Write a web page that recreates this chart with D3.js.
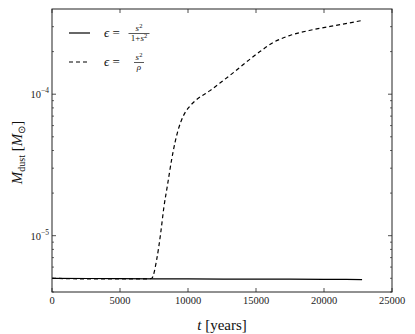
<!DOCTYPE html>
<html>
<head>
<meta charset="utf-8">
<script src="https://cdn.jsdelivr.net/npm/d3@7"></script>
<style>
  body { margin: 0; background: #fff; }
</style>
</head>
<body>
<svg width="415" height="334"></svg>
<script>
// data
var xTicks = [0, 5000, 10000, 15000, 20000, 25000];
var yMajor = [1e-5, 1e-4];
var yMajorExp = ["\u22125", "\u22124"];

var solidT = [0, 5000, 10000, 15000, 20000, 22800];
var solidM = [5.0e-6, 4.97e-6, 4.95e-6, 4.93e-6, 4.92e-6, 4.9e-6];

var dashT = [0, 3000, 5000, 7000, 7330, 7700, 7990, 8235, 8480, 8800, 9040, 9290, 9650,
             10150, 10600, 11620, 12350, 13090, 13820, 14560, 15290, 16270, 17500,
             19210, 21180, 22800];
var dashM = [5.0e-6, 4.95e-6, 4.95e-6, 4.96e-6, 5.0e-6, 6.8e-6, 1.04e-5, 1.61e-5, 2.24e-5,
             3.46e-5, 4.54e-5, 5.65e-5, 7.0e-5, 8.26e-5, 9.1e-5, 1.06e-4, 1.2e-4, 1.36e-4,
             1.55e-4, 1.77e-4, 2.0e-4, 2.32e-4, 2.6e-4, 2.86e-4, 3.1e-4, 3.32e-4];

var svg = d3.select("svg"),
    margin = { top: 9, right: 23, bottom: 42, left: 52 },
    width = +svg.attr("width") - margin.left - margin.right,
    height = +svg.attr("height") - margin.top - margin.bottom;

var serif = "Liberation Serif";

var x = d3.scaleLinear().domain([0, 25000]).range([0, width]);
var y = d3.scaleLog().domain([4e-6, 4e-4]).range([height, 0]);

var g = svg.append("g")
    .attr("transform", "translate(" + margin.left + "," + margin.top + ")");

// minor log ticks 2..9 x 10^k inside the domain
var yMinor = [];
[-6, -5, -4].forEach(function (e) {
    for (var m = 2; m <= 9; m++) {
        var v = m * Math.pow(10, e);
        if (v >= 4e-6 && v < 4e-4) yMinor.push(v);
    }
});

var tickCol = "#222";

// ticks inside, on all four sides
xTicks.forEach(function (t) {
    g.append("line").attr("x1", x(t)).attr("x2", x(t)).attr("y1", height).attr("y2", height - 4)
        .attr("stroke", tickCol).attr("stroke-width", 0.8);
    g.append("line").attr("x1", x(t)).attr("x2", x(t)).attr("y1", 0).attr("y2", 4)
        .attr("stroke", tickCol).attr("stroke-width", 0.8);
    g.append("text")
        .attr("x", x(t)).attr("y", height + 12)
        .attr("text-anchor", "middle")
        .attr("font-family", serif)
        .attr("font-size", 10.5)
        .attr("fill", "#222")
        .text(t);
});

yMajor.forEach(function (v, i) {
    g.append("line").attr("x1", 0).attr("x2", 4).attr("y1", y(v)).attr("y2", y(v))
        .attr("stroke", tickCol).attr("stroke-width", 0.8);
    g.append("line").attr("x1", width).attr("x2", width - 4).attr("y1", y(v)).attr("y2", y(v))
        .attr("stroke", tickCol).attr("stroke-width", 0.8);
    var lab = g.append("text")
        .attr("x", -3).attr("y", y(v) + 4)
        .attr("text-anchor", "end")
        .attr("font-family", serif)
        .attr("font-size", 10.5)
        .attr("fill", "#222");
    lab.append("tspan").text("10");
    lab.append("tspan").attr("dy", -5).attr("font-size", 7.5).text(yMajorExp[i]);
});

yMinor.forEach(function (v) {
    g.append("line").attr("x1", 0).attr("x2", 2).attr("y1", y(v)).attr("y2", y(v))
        .attr("stroke", tickCol).attr("stroke-width", 0.7);
    g.append("line").attr("x1", width).attr("x2", width - 2).attr("y1", y(v)).attr("y2", y(v))
        .attr("stroke", tickCol).attr("stroke-width", 0.7);
});

// curves
var line = d3.line()
    .x(function (d) { return x(d[0]); })
    .y(function (d) { return y(d[1]); })
    .curve(d3.curveMonotoneX);

g.append("path")
    .datum(d3.zip(solidT, solidM))
    .attr("fill", "none")
    .attr("stroke", "#000")
    .attr("stroke-width", 1.2)
    .attr("d", line);

g.append("path")
    .datum(d3.zip(dashT, dashM))
    .attr("fill", "none")
    .attr("stroke", "#000")
    .attr("stroke-width", 1.2)
    .attr("stroke-dasharray", "4,3")
    .attr("d", line);

// frame
g.append("rect")
    .attr("width", width).attr("height", height)
    .attr("fill", "none").attr("stroke", "#222").attr("stroke-width", 1);

// axis labels
var xl = svg.append("text")
    .attr("x", margin.left + width / 2).attr("y", 330)
    .attr("text-anchor", "middle")
    .attr("font-family", serif)
    .attr("font-size", 15)
    .attr("fill", "#111");
xl.append("tspan").attr("font-style", "italic").text("t");
xl.append("tspan").text(" [years]");

var yl = svg.append("text")
    .attr("transform", "translate(22," + (margin.top + height / 2 + 2) + ")rotate(-90)")
    .attr("text-anchor", "middle")
    .attr("font-family", serif)
    .attr("font-size", 15)
    .attr("fill", "#111");
yl.append("tspan").attr("font-style", "italic").text("M");
yl.append("tspan").attr("dy", 3).attr("font-size", 10).text("dust");
yl.append("tspan").attr("dy", -3).text(" [");
yl.append("tspan").attr("font-style", "italic").text("M");
yl.append("tspan").attr("dy", 3).attr("font-size", 10).text("\u2299");
yl.append("tspan").attr("dy", -3).text("]");

// legend
var legend = svg.append("g").attr("font-family", serif).attr("fill", "#111");
function legendRow(yy, dash, num, den) {
    legend.append("line")
        .attr("x1", 69).attr("x2", 90).attr("y1", yy).attr("y2", yy)
        .attr("stroke", "#000").attr("stroke-width", 1.2)
        .attr("stroke-dasharray", dash);
    var t = legend.append("text").attr("x", 104).attr("y", yy + 4).attr("font-size", 13);
    t.append("tspan").attr("font-style", "italic").text("\u03f5");
    t.append("tspan").text(" = ");
    var fx = 139;
    var n = legend.append("text").attr("x", fx).attr("y", yy - 2)
        .attr("text-anchor", "middle").attr("font-size", 9);
    n.append("tspan").attr("font-style", "italic").text("s");
    n.append("tspan").attr("dy", -3).attr("font-size", 6.5).text("2");
    var d = legend.append("text").attr("x", fx).attr("y", yy + 8)
        .attr("text-anchor", "middle").attr("font-size", 9);
    den(d);
    legend.append("line")
        .attr("x1", fx - num / 2).attr("x2", fx + num / 2).attr("y1", yy + 0.5).attr("y2", yy + 0.5)
        .attr("stroke", "#111").attr("stroke-width", 0.7);
}
legendRow(33, null, 21, function (d) {
    d.append("tspan").text("1+");
    d.append("tspan").attr("font-style", "italic").text("s");
    d.append("tspan").attr("dy", -3).attr("font-size", 6.5).text("2");
});
legendRow(62, "4,3", 10, function (d) {
    d.append("tspan").attr("font-style", "italic").text("\u03c1");
});
</script>
</body>
</html>
